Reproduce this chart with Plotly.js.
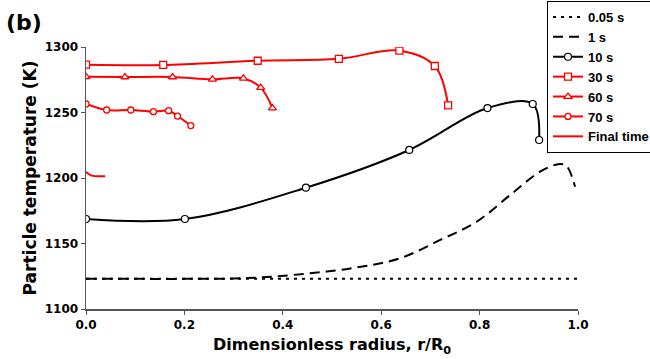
<!DOCTYPE html>
<html><head><meta charset="utf-8">
<script src="https://cdn.plot.ly/plotly-3.0.1.min.js"></script>
<style>html,body{margin:0;padding:0;background:#fff;overflow:hidden}#chart{width:650px;height:359px}</style>
</head><body><div id="chart"></div>
<script>
// Data
const x005 = [0, 0.2, 0.4, 0.6, 0.8, 1.0];
const y005 = [1123, 1123, 1123, 1123, 1123, 1123];

const x1 = [0, 0.1, 0.2, 0.3, 0.35, 0.421, 0.537, 0.638, 0.72, 0.794, 0.862, 0.923, 0.963, 0.977, 0.994];
const y1 = [1123, 1123, 1123, 1123.3, 1124, 1126, 1131, 1138.7, 1152.7, 1166.6, 1187, 1204.8, 1210.7, 1209, 1193.4];

const x10 = [0, 0.201, 0.447, 0.657, 0.816, 0.908, 0.921];
const y10 = [1168.7, 1168.7, 1192.6, 1221.4, 1253.4, 1256.5, 1229];

const x30 = [0, 0.157, 0.349, 0.514, 0.637, 0.709, 0.736];
const y30 = [1286.5, 1286.3, 1289.5, 1291, 1297.2, 1285.5, 1255.5];

const x60 = [0, 0.079, 0.176, 0.257, 0.320, 0.355, 0.379];
const y60 = [1277.3, 1277.1, 1277.1, 1275.3, 1276, 1269, 1253.4];

const x70 = [0, 0.042, 0.091, 0.137, 0.168, 0.186, 0.213];
const y70 = [1256.5, 1251.9, 1251.9, 1250.6, 1251.4, 1247.3, 1240];

const xFin = [0, 0.01, 0.039];
const yFin = [1204.6, 1202, 1201.3];

const names = ['0.05 s', '1 s', '10 s', '30 s', '60 s', '70 s', 'Final time'];
const xTicks = [0, 0.2, 0.4, 0.6, 0.8, 1.0];
const xTickText = ['0.0', '0.2', '0.4', '0.6', '0.8', '1.0'];
const yTicks = [1100, 1150, 1200, 1250, 1300];

const RED = '#ff0000';
const FONT = 'DejaVu Sans, Liberation Sans, Arial, sans-serif';
const LFONT = 'Liberation Sans, Arial, sans-serif';
const traces = [
  {x: x005, y: y005, name: names[0], mode: 'lines', line: {color: '#000', width: 2, dash: '3px,5px'}},
  {x: x1, y: y1, name: names[1], mode: 'lines', line: {color: '#000', width: 2, dash: '10px,6px', shape: 'spline'}},
  {x: x10, y: y10, name: names[2], mode: 'lines+markers', line: {color: '#000', width: 2, shape: 'spline'},
   marker: {symbol: 'circle', size: 7, color: '#fff', line: {color: '#000', width: 1.2}}},
  {x: x30, y: y30, name: names[3], mode: 'lines+markers', line: {color: RED, width: 2, shape: 'spline'},
   marker: {symbol: 'square', size: 7, color: '#fff', line: {color: RED, width: 1.3}}},
  {x: x60, y: y60, name: names[4], mode: 'lines+markers', line: {color: RED, width: 2, shape: 'spline'},
   marker: {symbol: 'triangle-up', size: 7, color: '#fff', line: {color: RED, width: 1.3}}},
  {x: x70, y: y70, name: names[5], mode: 'lines+markers', line: {color: RED, width: 2, shape: 'spline'},
   marker: {symbol: 'circle', size: 6, color: '#fff', line: {color: RED, width: 1.3}}},
  {x: xFin, y: yFin, name: names[6], mode: 'lines', line: {color: RED, width: 2, shape: 'spline'}}
];

const layout = {
  width: 650, height: 359,
  margin: {l: 86, r: 72, t: 47, b: 50, autoexpand: false},
  paper_bgcolor: '#fff', plot_bgcolor: '#fff',
  font: {family: FONT, color: '#000'},
  xaxis: {
    range: [0, 1], tickvals: xTicks, ticktext: xTickText,
    showgrid: false, zeroline: false, showline: true, linecolor: '#555', linewidth: 1.5,
    ticks: 'outside', ticklen: 4, tickcolor: '#555',
    tickfont: {size: 12, family: FONT, weight: 'bold'},
    title: {text: 'Dimensionless radius, r/R<sub>0</sub>', font: {size: 16, weight: 'bold'}, standoff: 8}
  },
  yaxis: {
    range: [1100, 1300], tickvals: yTicks,
    showgrid: false, zeroline: false, showline: true, linecolor: '#555', linewidth: 1.5,
    ticks: 'outside', ticklen: 4, tickcolor: '#555',
    tickfont: {size: 12, family: FONT, weight: 'bold'},
    title: {text: 'Particle temperature (K)', font: {size: 17, weight: 'bold'}, standoff: 3}
  },
  showlegend: true,
  legend: {
    x: 0.937, y: 1.1756, xanchor: 'left', yanchor: 'top',
    bordercolor: '#000', borderwidth: 1, bgcolor: '#fff',
    font: {size: 13, family: LFONT, weight: 'bold'}, tracegroupgap: 0
  },
  annotations: [{
    xref: 'paper', yref: 'paper', x: -0.167, y: 1.095, xanchor: 'left', yanchor: 'middle',
    text: '<b>(b)</b>', showarrow: false, font: {size: 22}
  }]
};

Plotly.newPlot('chart', traces, layout, {displayModeBar: false, staticPlot: true});
</script></body></html>
